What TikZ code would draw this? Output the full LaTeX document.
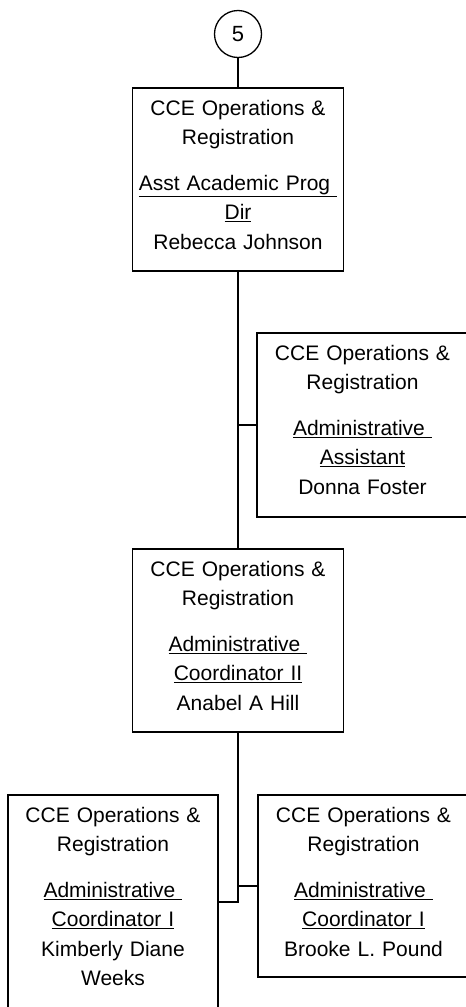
\documentclass[tikz,border=0pt]{standalone}
\usepackage{fontspec}
\setmainfont{Liberation Sans}
\usepackage{xcolor}
\usetikzlibrary{positioning}
\definecolor{Ink}{HTML}{000000}
\definecolor{Paper}{HTML}{FFFFFF}

\begin{document}
\begin{tikzpicture}[x=1pt,y=-1pt,font=\fontsize{21}{29.3}\selectfont,text=Ink,role/.style={draw=Ink,fill=Paper,line width=1.3pt,minimum width=211pt,text width=200pt,align=center,inner sep=0pt,text height=27pt,text depth=156pt},link/.style={draw=Ink,line width=2pt}]
\useasboundingbox (0,0) rectangle (466,1007);
\clip (0,0) rectangle (466,1007);
\node[draw=Ink,line width=1.3pt,circle,minimum size=47pt,inner sep=0pt,font=\fontsize{22}{26}\selectfont] (page5) at (238,34){5};
\node[role] (dir) at (238,179.5){CCE Operations \&\\Registration\\[17pt]\underline{Asst Academic Prog\ }\\\underline{Dir}\\Rebecca Johnson};
\node[role,text depth=157pt] (asst) at (362.5,425){CCE Operations \&\\Registration\\[17pt]\underline{Administrative\ }\\\underline{Assistant}\\Donna Foster};
\node[role] (coordii) at (238,640.5){CCE Operations \&\\Registration\\[17pt]\underline{Administrative\ }\\\underline{Coordinator II}\\Anabel A Hill};
\node[role,minimum width=210pt,text depth=187pt] (kdw) at (113,902){CCE Operations \&\\Registration\\[17pt]\underline{Administrative\ }\\\underline{Coordinator I}\\Kimberly Diane\\Weeks};
\node[role,text depth=155pt] (blp) at (363.5,886){CCE Operations \&\\Registration\\[17pt]\underline{Administrative\ }\\\underline{Coordinator I}\\Brooke L. Pound};
\draw[link] (page5.south) -- (dir.north);
\draw[link] (dir.south) -- (coordii.north);
\draw[link] (asst.west) -- (asst.west -| dir.south);
\draw[link] (coordii.south) -- (coordii.south |- kdw.east) -- (kdw.east);
\draw[link] (blp.west) -- (blp.west -| coordii.south);
\end{tikzpicture}
\end{document}
